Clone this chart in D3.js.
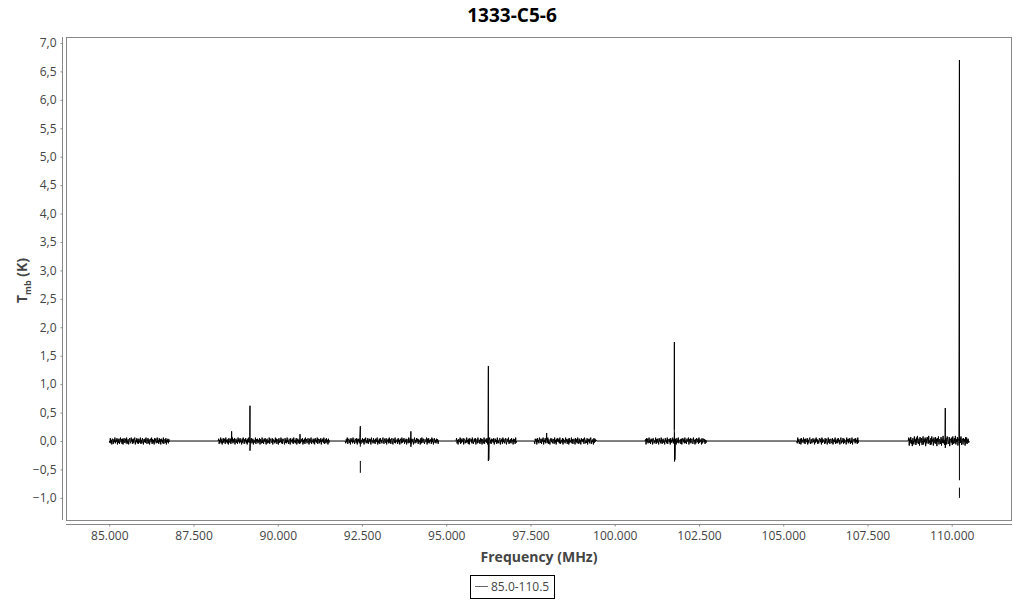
<!DOCTYPE html>
<html>
<head>
<meta charset="utf-8">
<script src="https://cdn.jsdelivr.net/npm/d3@7"></script>
<style>
  html, body { margin: 0; padding: 0; background: #fff; }
  svg { display: block; font-family: "Open Sans", "Noto Sans", sans-serif; }
</style>
</head>
<body>
<svg id="chart" width="1024" height="600"></svg>
<script>
// ---- data ----
const title = "1333-C5-6";
const seriesName = "85.0-110.5";
const xLabel = "Frequency (MHz)";
const xTicks = [85000, 87500, 90000, 92500, 95000, 97500, 100000, 102500, 105000, 107500, 110000];
const yTicks = [-1, -0.5, 0, 0.5, 1, 1.5, 2, 2.5, 3, 3.5, 4, 4.5, 5, 5.5, 6, 6.5, 7];

// spectral windows: start / end frequency (MHz)
const segStart = [85000, 88230, 92000, 95290, 97610, 100900, 105400, 108710];
const segEnd   = [86800, 91550, 94790, 97090, 99460, 102740, 107260, 110520];

const seg1 = [0.00,-0.03,0.05,-0.04,0.02,-0.06,0.04,0.01,-0.05,0.03,-0.02,0.06,-0.04,0.02,-0.01,0.05,-0.06,0.03,-0.03,0.04,
-0.05,0.01,0.06,-0.02,0.03,-0.05,0.04,-0.06,0.02,0.05,-0.03,-0.01,0.04,-0.04,0.06,-0.05,0.01,0.03,-0.06,0.02,
0.05,-0.02,-0.04,0.06,-0.01,0.03,-0.05,0.04,-0.03,0.02,0.06,-0.06,0.01,-0.02,0.05,-0.04,0.03,-0.05,0.04,0.00,
-0.03,0.06,-0.05,0.02,-0.04,0.05,0.01,-0.06,0.03,-0.02,0.04,-0.03,0.06,-0.01,-0.05,0.02,0.05,-0.04,0.03,-0.06,
0.01,0.04,-0.02,0.06,-0.05,0.03,-0.03,0.02,-0.06,0.05,-0.01,0.04,-0.04,0.01,0.06,-0.03,0.02,-0.05,0.05,-0.02,
0.03,-0.06,0.04,-0.01,0.02,-0.04,0.06,-0.05,0.01,0.03,-0.03,0.05,-0.06,0.02,-0.02,0.04,-0.04,0.03,-0.01,0.00];
const seg2 = [0.00,0.04,-0.05,0.02,-0.02,0.06,-0.04,0.03,-0.06,0.01,0.05,-0.03,0.04,-0.01,-0.05,0.06,-0.02,0.02,-0.04,0.03,
-0.06,0.05,0.01,-0.03,0.04,-0.05,0.02,-0.01,0.06,-0.04,0.03,-0.02,0.05,-0.06,0.01,0.04,-0.03,0.02,-0.05,0.06,
-0.01,0.03,-0.04,0.05,-0.02,0.01,-0.06,0.04,-0.03,0.06,0.02,-0.05,0.03,-0.01,0.05,-0.04,0.02,-0.06,0.04,-0.02,
0.06,-0.03,0.01,-0.05,0.03,0.05,-0.04,-0.02,0.04,-0.06,0.02,0.01,-0.03,0.06,-0.05,0.03,-0.01,0.04,-0.04,0.02,
-0.02,0.05,-0.06,0.03,0.01,-0.04,0.06,-0.03,0.02,-0.05,0.04,-0.01,0.05,-0.02,-0.06,0.03,0.04,-0.04,0.01,-0.03,
0.06,-0.05,0.02,0.04,-0.02,-0.03,0.05,-0.06,0.03,-0.01,0.01,-0.04,0.06,-0.02,0.04,-0.05,0.02,0.03,-0.06,0.05,
-0.03,0.01,-0.02,0.06,-0.04,0.03,-0.05,0.04,0.02,-0.01,-0.06,0.05,-0.03,0.02,-0.04,0.06,-0.02,0.01,-0.05,0.04,
0.03,-0.06,0.05,-0.01,0.02,-0.03,0.04,-0.05,0.06,-0.02,0.01,-0.04,0.03,0.05,-0.06,-0.01,0.04,-0.03,0.02,-0.05,
0.06,-0.04,0.01,0.03,-0.02,0.05,-0.06,0.02,-0.03,0.04,-0.05,0.06,-0.01,0.03,-0.04,0.01,0.05,-0.02,-0.06,0.04,
-0.03,0.02,0.06,-0.05,0.01,-0.02,0.04,-0.04,0.03,-0.06,0.05,-0.01,0.02,-0.03,0.06,-0.05,0.04,0.01,-0.04,0.03,
-0.02,0.05,-0.06,0.02,-0.01,0.04,-0.03,0.06,-0.05,0.01,0.03,-0.04,0.05,-0.02,0.02,-0.06,0.04,-0.03,0.01,0.00];
const seg3 = [0.00,-0.04,0.03,-0.02,0.06,-0.05,0.01,0.04,-0.03,0.02,-0.06,0.05,-0.01,0.03,-0.04,0.06,-0.02,0.01,-0.05,0.04,
0.02,-0.03,0.05,-0.06,0.03,-0.01,0.04,-0.04,0.06,0.01,-0.05,0.02,-0.02,0.05,-0.03,0.03,-0.06,0.04,-0.01,0.06,
-0.04,0.01,-0.03,0.05,-0.05,0.02,0.04,-0.02,0.03,-0.06,0.06,-0.01,0.01,-0.04,0.05,-0.03,0.02,-0.05,0.04,-0.02,
0.03,0.06,-0.06,0.01,-0.03,0.04,-0.05,0.05,-0.01,0.02,-0.04,0.03,0.06,-0.02,-0.05,0.04,0.01,-0.03,0.05,-0.06,
0.02,-0.01,0.04,-0.04,0.06,-0.03,0.03,-0.05,0.01,0.05,-0.02,-0.06,0.04,0.02,-0.03,0.06,-0.04,0.01,-0.01,0.03,
-0.05,0.05,-0.02,0.02,-0.06,0.04,0.01,-0.04,0.06,-0.03,0.03,-0.01,0.05,-0.05,0.02,-0.02,0.04,-0.06,0.03,0.01,
-0.04,0.06,-0.03,0.02,0.05,-0.05,-0.01,0.04,-0.02,0.03,-0.06,0.01,0.06,-0.04,0.02,-0.03,0.05,-0.01,0.04,-0.05,
0.03,-0.02,0.01,-0.06,0.05,-0.04,0.06,0.02,-0.03,0.04,-0.01,-0.05,0.03,0.01,-0.02,0.06,-0.06,0.04,-0.03,0.05,
-0.04,0.02,-0.01,0.03,-0.05,0.06,-0.02,0.04,-0.06,0.01,0.05,-0.03,0.02,-0.04,0.04,-0.02,0.03,-0.05,0.01,0.00];
const seg4 = [0.00,0.05,-0.04,0.02,-0.06,0.03,0.01,-0.02,0.06,-0.05,0.04,-0.03,0.02,-0.01,0.05,-0.06,0.03,0.04,-0.04,0.01,
-0.03,0.06,-0.02,0.02,-0.05,0.04,-0.06,0.05,0.01,-0.01,0.03,-0.04,0.06,-0.03,-0.05,0.02,0.04,-0.02,0.05,-0.06,
0.01,0.03,-0.04,0.06,-0.01,-0.03,0.02,-0.05,0.05,-0.02,0.04,-0.06,0.03,0.01,-0.04,0.06,-0.05,0.02,-0.01,0.04,
-0.03,0.05,-0.06,0.03,-0.02,0.01,0.06,-0.04,0.02,-0.05,0.04,-0.01,0.03,-0.03,0.05,-0.06,0.01,0.04,-0.02,0.02,
-0.05,0.06,-0.03,0.01,-0.04,0.03,0.05,-0.06,0.02,-0.01,0.04,-0.05,0.06,-0.02,0.03,-0.04,0.01,0.05,-0.03,-0.06,
0.04,0.02,-0.02,0.06,-0.05,0.01,-0.03,0.03,-0.04,0.05,-0.01,0.02,-0.06,0.04,-0.02,0.03,-0.05,0.06,-0.03,0.00];
const seg5 = [0.00,-0.05,0.04,-0.01,0.03,-0.06,0.05,-0.02,0.02,-0.04,0.06,0.01,-0.03,0.04,-0.05,0.03,-0.01,0.06,-0.06,0.02,
-0.02,0.05,-0.04,0.01,0.04,-0.03,0.06,-0.05,0.03,-0.01,-0.06,0.02,0.05,-0.02,0.04,-0.04,0.01,0.03,-0.05,0.06,
-0.03,0.02,-0.06,0.04,-0.01,0.05,-0.02,0.03,-0.04,0.06,-0.05,0.01,0.02,-0.03,0.05,-0.06,0.04,-0.02,0.01,-0.04,
0.06,-0.01,0.03,-0.05,0.02,0.04,-0.06,0.05,-0.03,0.01,-0.02,0.06,-0.04,0.03,-0.05,0.02,0.04,-0.01,-0.06,0.05,
-0.02,0.03,-0.04,0.06,0.01,-0.05,0.04,-0.03,0.02,-0.06,0.05,-0.01,0.03,-0.02,0.04,-0.05,0.06,0.02,-0.04,0.01,
-0.03,0.05,-0.06,0.03,-0.01,0.04,-0.04,0.02,0.06,-0.05,0.01,-0.02,0.03,-0.06,0.05,-0.03,0.04,-0.01,0.02,0.00];
const seg6 = [0.00,0.03,-0.06,0.05,-0.02,0.04,-0.04,0.01,0.06,-0.03,0.02,-0.05,0.04,-0.01,0.03,-0.06,0.05,0.02,-0.04,0.01,
-0.02,0.06,-0.05,0.03,-0.03,0.04,0.01,-0.06,0.05,-0.01,0.02,-0.04,0.06,-0.02,-0.05,0.03,0.04,-0.03,0.01,-0.06,
0.05,-0.01,0.02,-0.04,0.06,-0.05,0.03,0.01,-0.02,0.04,-0.06,0.05,-0.03,0.02,-0.01,0.06,-0.04,0.03,-0.05,0.01,
0.04,-0.02,-0.06,0.05,0.02,-0.03,0.06,-0.04,0.01,-0.01,0.03,-0.05,0.04,-0.06,0.02,0.05,-0.02,0.03,-0.04,0.06,
-0.03,0.01,-0.05,0.04,-0.01,0.02,0.06,-0.06,0.03,-0.02,0.05,-0.04,0.01,0.04,-0.03,-0.05,0.06,-0.01,0.02,-0.06,
0.03,-0.04,0.05,0.01,-0.02,0.04,-0.05,0.06,-0.03,0.02,-0.01,0.03,-0.06,0.05,-0.04,0.01,0.04,-0.02,0.03,-0.05,
0.02,-0.03,0.01,0.00];
const seg7 = [0.00,-0.04,0.06,-0.02,0.03,-0.05,0.01,0.04,-0.06,0.05,-0.03,0.02,-0.01,0.06,-0.04,0.03,-0.05,0.04,0.01,-0.02,
0.05,-0.06,0.02,-0.03,0.04,0.06,-0.05,-0.01,0.03,-0.04,0.01,0.05,-0.02,0.02,-0.06,0.04,-0.03,0.06,-0.01,0.03,
-0.05,0.01,-0.04,0.05,0.02,-0.02,0.04,-0.06,0.06,-0.03,0.03,-0.01,0.01,-0.05,0.05,-0.04,0.02,0.04,-0.06,-0.02,
0.06,-0.03,0.03,-0.05,0.01,0.04,-0.01,-0.04,0.05,-0.06,0.02,0.03,-0.02,0.06,-0.05,0.01,-0.03,0.04,-0.04,0.05,
-0.01,0.02,-0.06,0.03,0.06,-0.04,0.01,-0.02,0.05,-0.05,0.04,-0.03,0.02,0.01,-0.06,0.06,-0.01,0.03,-0.04,0.04,
-0.02,0.05,-0.05,0.01,-0.03,0.06,-0.06,0.02,0.03,-0.01,0.04,-0.04,0.05,-0.02,0.02,-0.05,0.06,-0.03,0.01,0.00];
const seg8 = [0.00,0.06,-0.08,0.04,-0.03,0.07,-0.05,0.02,-0.09,0.05,0.01,-0.06,0.08,-0.02,0.03,-0.07,0.06,-0.04,0.09,-0.01,
-0.05,0.04,-0.08,0.07,0.02,-0.03,0.05,-0.07,0.01,0.08,-0.06,0.03,-0.02,0.06,-0.09,0.04,-0.04,0.07,0.02,-0.05,
0.09,-0.03,0.01,-0.07,0.05,-0.06,0.08,-0.01,0.03,-0.08,0.06,0.02,-0.04,0.07,-0.05,0.04,-0.09,0.05,-0.02,0.08,
-0.06,0.03,0.01,-0.05,0.07,-0.08,0.04,-0.03,0.09,-0.04,0.02,-0.07,0.06,-0.01,0.05,-0.06,0.08,0.03,-0.05,-0.02,
0.07,-0.09,0.04,0.01,-0.03,0.06,-0.07,0.08,-0.05,0.02,0.05,-0.04,0.09,-0.06,0.03,-0.02,0.07,-0.08,0.04,0.01,
-0.05,0.06,-0.03,0.08,-0.07,0.02,0.04,-0.06,0.05,-0.01,0.03,-0.08,0.07,-0.04,0.06,-0.05,0.02,0.04,-0.03,0.00];
const segValues = [seg1, seg2, seg3, seg4, seg5, seg6, seg7, seg8];

// emission / absorption lines (MHz, K); null = break in the drawn line
const lineFreq = [88630, 89175, 89175, 90660,
                  92450, 92450, 92450, 92450, 92450, 92450,
                  93950, 93950,
                  96250, 96250, 96262,
                  97980,
                  101770, 101770, 101770, 101775, 101775, 101785,
                  109810, 109810,
                  110230, 110230, 110230, 110230, 110230, 110230];
const lineVal  = [0.17, 0.62, -0.17, 0.12,
                  0.26, -0.10, null, -0.35, -0.56, null,
                  0.17, -0.10,
                  1.32, -0.35, -0.33,
                  0.14,
                  1.74, 0.20, null, 0.15, -0.36, -0.33,
                  0.58, -0.12,
                  6.70, -0.69, null, -0.82, -1.00, null];

// ---- build series ----
let pts = [];
segValues.forEach((vals, s) => {
  const n = vals.length;
  vals.forEach((v, i) => {
    pts.push({f: segStart[s] + (segEnd[s] - segStart[s]) * i / (n - 1), v: v, o: pts.length});
  });
});
lineFreq.forEach((f, i) => pts.push({f: f, v: lineVal[i], o: 100000 + i}));
pts.sort((a, b) => (a.f - b.f) || (a.o - b.o));

// ---- layout ----
const svg = d3.select("#chart");
const L = 66, R = 1012, T = 37, B = 520;

const x = d3.scaleLinear().domain([83715, 111790]).range([L, R]);
const y = d3.scaleLinear().domain([-1.389, 7.105]).range([B, T]);

const loc = d3.formatLocale({decimal: ",", thousands: ".", grouping: [3], currency: ["", ""]});
const fx = loc.format(",.0f");
const fy = loc.format(".1f");

// plot box
svg.append("rect").attr("x", L + 0.5).attr("y", T + 0.5)
  .attr("width", R - L - 1).attr("height", B - T)
  .attr("fill", "#fff").attr("stroke", "#888").attr("stroke-width", 1);

// clip
svg.append("clipPath").attr("id", "clip").append("rect")
  .attr("x", L + 1).attr("y", T + 1).attr("width", R - L - 2).attr("height", B - T - 1);

// series line
const line = d3.line().defined(d => d.v !== null).x(d => x(d.f)).y(d => y(d.v));
svg.append("path").datum(pts)
  .attr("clip-path", "url(#clip)")
  .attr("fill", "none").attr("stroke", "#000").attr("stroke-width", 1)
  .attr("d", line);

// y axis
const gy = svg.append("g").attr("transform", "translate(62.5,0)")
  .call(d3.axisLeft(y).tickValues(yTicks).tickFormat(fy).tickSize(2).tickSizeOuter(0).tickPadding(4));
gy.select(".domain").attr("stroke", "#888").attr("d", `M0,${T}V${B}`);
gy.selectAll(".tick line").attr("stroke", "#888");
gy.selectAll(".tick text").attr("fill", "#444").style("font-size", "12px").style("font-family", "'Open Sans', sans-serif");

// x axis
const gx = svg.append("g").attr("transform", "translate(0,524.5)")
  .call(d3.axisBottom(x).tickValues(xTicks).tickFormat(fx).tickSize(2).tickSizeOuter(0).tickPadding(5));
gx.select(".domain").attr("stroke", "#888").attr("d", `M${L},0H${R}`);
gx.selectAll(".tick line").attr("stroke", "#888");
gx.selectAll(".tick text").attr("fill", "#444").style("font-size", "12px").style("font-family", "'Open Sans', sans-serif");

// title
svg.append("text").attr("x", 512).attr("y", 22).attr("text-anchor", "middle")
  .style("font-size", "19px").style("font-weight", "bold").attr("fill", "#000").text(title);

// x label
svg.append("text").attr("x", (L + R) / 2).attr("y", 562).attr("text-anchor", "middle")
  .style("font-size", "14px").style("font-weight", "bold").attr("fill", "#444").text(xLabel);

// y label
const yl = svg.append("text").attr("transform", `translate(27,${(T + B) / 2 + 2}) rotate(-90)`)
  .attr("text-anchor", "middle").style("font-size", "14px").style("font-weight", "bold").attr("fill", "#444");
yl.append("tspan").text("T");
yl.append("tspan").attr("dy", 4).style("font-size", "9px").text("mb");
yl.append("tspan").attr("dy", -4).text(" (K)");

// legend
const lg = svg.append("g");
lg.append("rect").attr("x", 470.5).attr("y", 575.5).attr("width", 84).attr("height", 23)
  .attr("fill", "#fff").attr("stroke", "#000").attr("stroke-width", 1);
lg.append("line").attr("x1", 475).attr("x2", 488).attr("y1", 586.5).attr("y2", 586.5)
  .attr("stroke", "#666").attr("stroke-width", 1);
lg.append("text").attr("x", 491).attr("y", 591).style("font-size", "12px").attr("fill", "#444").text(seriesName);
</script>
</body>
</html>
